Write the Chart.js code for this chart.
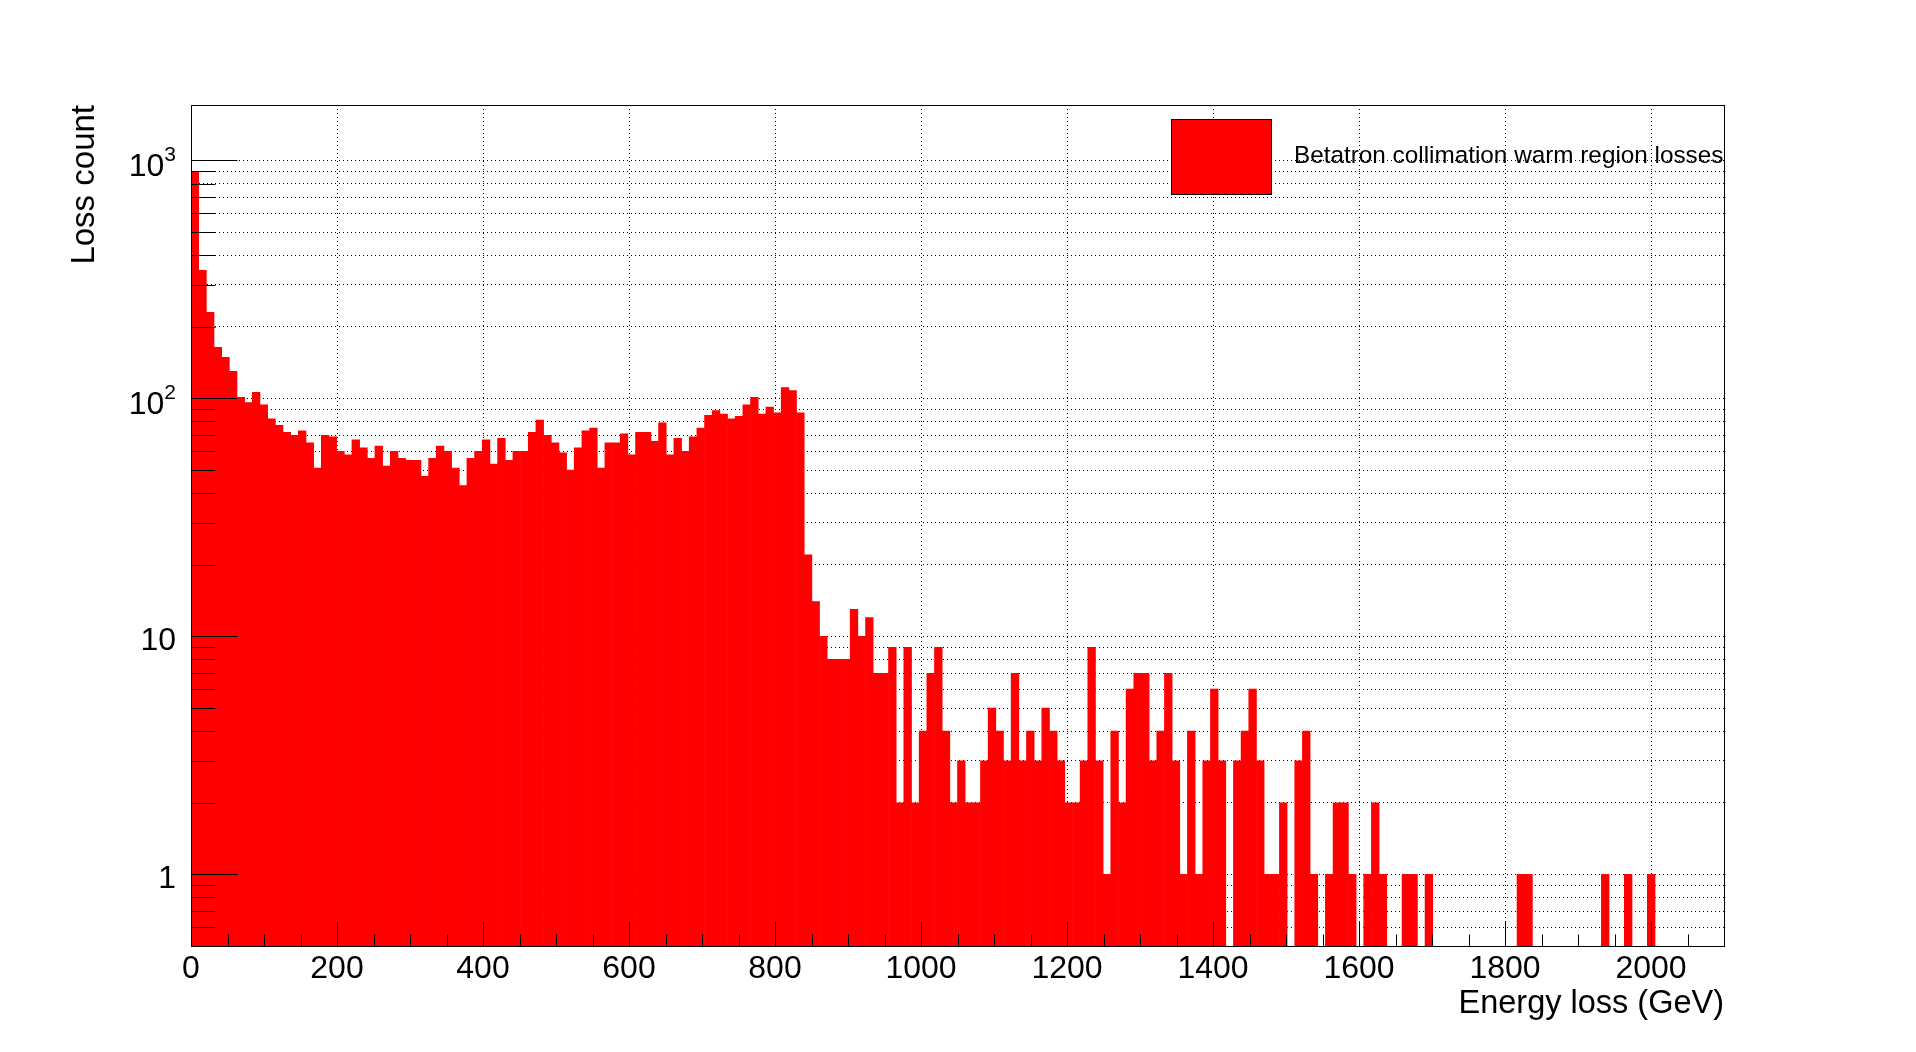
<!DOCTYPE html>
<html>
<head>
<meta charset="utf-8">
<script src="https://cdn.jsdelivr.net/npm/chart.js@4/dist/chart.umd.min.js"></script>
<style>
    html, body { margin: 0; padding: 0; background: #fff; }
    .chart-box { position: relative; width: 1916px; height: 1052px; }
</style>
</head>
<body>
<div class="chart-box"><canvas class="loss-chart"></canvas></div>
<script>
// 200 bins of 10.5 GeV from 0 to 2100 GeV, counts
var binWidth = 10.5;
var binCounts = [
    900, 345, 230, 164, 149, 130, 101, 96, 106, 94,
    82, 77, 72, 70, 73, 65, 51, 70, 69, 60,
    58, 67, 62, 56, 63, 52, 60, 56, 55, 55,
    47, 56, 63, 60, 51, 43, 56, 60, 67, 53,
    68, 55, 60, 60, 72, 81, 70, 65, 59, 50,
    62, 73, 75, 51, 65, 65, 71, 58, 72, 72,
    66, 79, 58, 68, 60, 69, 75, 85, 89, 86,
    82, 84, 94, 101, 86, 92, 87, 111, 108, 87,
    22, 14, 10, 8, 8, 8, 13, 10, 12, 7,
    7, 9, 2, 9, 2, 4, 7, 9, 4, 2,
    3, 2, 2, 3, 5, 4, 3, 7, 3, 4,
    3, 5, 4, 3, 2, 2, 3, 9, 3, 1,
    4, 2, 6, 7, 7, 3, 4, 7, 3, 1,
    4, 1, 3, 6, 3, 0, 3, 4, 6, 3,
    1, 1, 2, 0, 3, 4, 1, 0, 1, 2,
    2, 1, 0, 1, 2, 1, 0, 0, 1, 1,
    0, 1, 0, 0, 0, 0, 0, 0, 0, 0,
    0, 0, 0, 1, 1, 0, 0, 0, 0, 0,
    0, 0, 0, 0, 1, 0, 0, 1, 0, 0,
    1, 0, 0, 0, 0, 0, 0, 0, 0, 0
];
var binLabels = binCounts.map(function (c, i) { return (i * binWidth).toFixed(1); });

var xMajorTicks = [0, 200, 400, 600, 800, 1000, 1200, 1400, 1600, 1800, 2000];
var xTickLabels = ['0', '200', '400', '600', '800', '1000', '1200', '1400', '1600', '1800', '2000'];
var yMajorTicks = [1, 10, 100, 1000];
var yTickBase = ['1', '10', '10', '10'];
var yTickExp = ['', '', '2', '3'];
var yMinorTicks = [0.6, 0.7, 0.8, 0.9, 2, 3, 4, 5, 6, 7, 8, 9, 20, 30, 40, 50, 60, 70, 80, 90,
    200, 300, 400, 500, 600, 700, 800, 900];
var seriesLabel = 'Betatron collimation warm region losses';

var FONT = '"Liberation Sans", Arial, Helvetica, sans-serif';

var LossHistogramModule = (function (module) {

    // tick marks sit on top of the bars, ROOT style, plus frame, y labels and legend
    var rootFrame = {
        id: 'rootFrame',
        afterDatasetsDraw: function (chart) {
            var ctx = chart.ctx;
            var area = chart.chartArea;
            var xs = chart.scales.energy;
            var ys = chart.scales.y;
            var left = Math.round(area.left) + 0.5;
            var bottom = Math.round(area.bottom) + 0.5;

            ctx.save();
            ctx.strokeStyle = '#000';
            ctx.lineWidth = 1;
            ctx.setLineDash([]);
            ctx.beginPath();
            yMajorTicks.forEach(function (v) {
                var py = Math.round(ys.getPixelForValue(v)) + 0.5;
                ctx.moveTo(left, py); ctx.lineTo(left + 46, py);
            });
            yMinorTicks.forEach(function (v) {
                var py = Math.round(ys.getPixelForValue(v)) + 0.5;
                ctx.moveTo(left, py); ctx.lineTo(left + 24, py);
            });
            for (var e = 0; e <= 2100; e += 50) {
                var px = Math.round(xs.getPixelForValue(e)) + 0.5;
                var len = xMajorTicks.indexOf(e) >= 0 ? 25 : 12;
                ctx.moveTo(px, bottom); ctx.lineTo(px, bottom - len);
            }
            ctx.stroke();

            ctx.strokeRect(left, Math.round(area.top) + 0.5,
                Math.round(area.right) - Math.round(area.left), Math.round(area.bottom) - Math.round(area.top));

            // y labels: 10^n written with a raised exponent
            ctx.fillStyle = '#000';
            ctx.textAlign = 'right';
            ctx.textBaseline = 'alphabetic';
            yMajorTicks.forEach(function (v, i) {
                var py = ys.getPixelForValue(v);
                var xr = area.left - 15;
                if (yTickExp[i]) {
                    ctx.font = '21px ' + FONT;
                    ctx.fillText(yTickExp[i], xr, py + 1);
                    xr -= ctx.measureText(yTickExp[i]).width;
                    ctx.font = '32px ' + FONT;
                    ctx.fillText(yTickBase[i], xr, py + 16);
                } else {
                    ctx.font = '32px ' + FONT;
                    ctx.fillText(yTickBase[i], xr, py + 14);
                }
            });

            // legend
            var ds = chart.data.datasets[0];
            ctx.fillStyle = ds.backgroundColor;
            ctx.fillRect(1172, 120, 99, 74);
            ctx.strokeRect(1171.5, 119.5, 100, 75);
            ctx.fillStyle = '#000';
            ctx.font = '24.3px ' + FONT;
            ctx.textAlign = 'left';
            ctx.textBaseline = 'middle';
            ctx.fillText(ds.label, 1294, 156);
            ctx.restore();
        }
    };

    module.Initialize = function () {
        new Chart(document.querySelector('canvas.loss-chart'), {
            type: 'bar',
            data: {
                labels: binLabels,
                datasets: [
                    {
                        label: seriesLabel,
                        data: binCounts.map(function (c) { return c > 0 ? c : null; }),
                        backgroundColor: '#ff0000',
                        borderWidth: 0,
                        barPercentage: 1,
                        categoryPercentage: 1,
                        xAxisID: 'x',
                        yAxisID: 'y'
                    }
                ]
            },
            options: {
                responsive: true,
                maintainAspectRatio: false,
                animation: false,
                events: [],
                layout: { padding: { left: 0, top: 105, right: 192, bottom: 0 } },
                plugins: {
                    legend: { display: false },
                    tooltip: { enabled: false }
                },
                scales: {
                    x: {
                        type: 'category',
                        display: false
                    },
                    energy: {
                        type: 'linear',
                        position: 'bottom',
                        min: 0,
                        max: 2100,
                        offset: false,
                        afterFit: function (s) { s.height = 106; },
                        afterBuildTicks: function (s) {
                            s.ticks = xMajorTicks.map(function (v) { return { value: v }; });
                        },
                        grid: { color: '#000', lineWidth: 1, drawTicks: false, offset: false },
                        border: { display: false, dash: [1, 3] },
                        ticks: {
                            autoSkip: false,
                            maxRotation: 0,
                            padding: 7,
                            color: '#000',
                            font: { family: FONT, size: 32, lineHeight: 1 },
                            callback: function (v) {
                                var i = xMajorTicks.indexOf(v);
                                return i >= 0 ? xTickLabels[i] : '';
                            }
                        },
                        title: {
                            display: true,
                            text: 'Energy loss (GeV)',
                            align: 'end',
                            color: '#000',
                            font: { family: FONT, size: 32.5, lineHeight: 1 },
                            padding: { top: 0, bottom: 32 }
                        }
                    },
                    y: {
                        type: 'logarithmic',
                        min: 0.5,
                        max: 1710,
                        afterFit: function (s) { s.width = 191; },
                        afterBuildTicks: function (s) {
                            s.ticks = yMinorTicks.concat(yMajorTicks)
                                .sort(function (a, b) { return a - b; })
                                .map(function (v) { return { value: v }; });
                        },
                        grid: { color: '#000', lineWidth: 1, drawTicks: false },
                        border: { display: false, dash: [1, 3] },
                        ticks: { display: false },
                        title: {
                            display: true,
                            text: 'Loss count',
                            align: 'end',
                            color: '#000',
                            font: { family: FONT, size: 33, lineHeight: 1 },
                            padding: { top: 68, bottom: 0 }
                        }
                    }
                }
            },
            plugins: [rootFrame]
        });
    }

    return module;
}({}))

LossHistogramModule.Initialize();
</script>
</body>
</html>
